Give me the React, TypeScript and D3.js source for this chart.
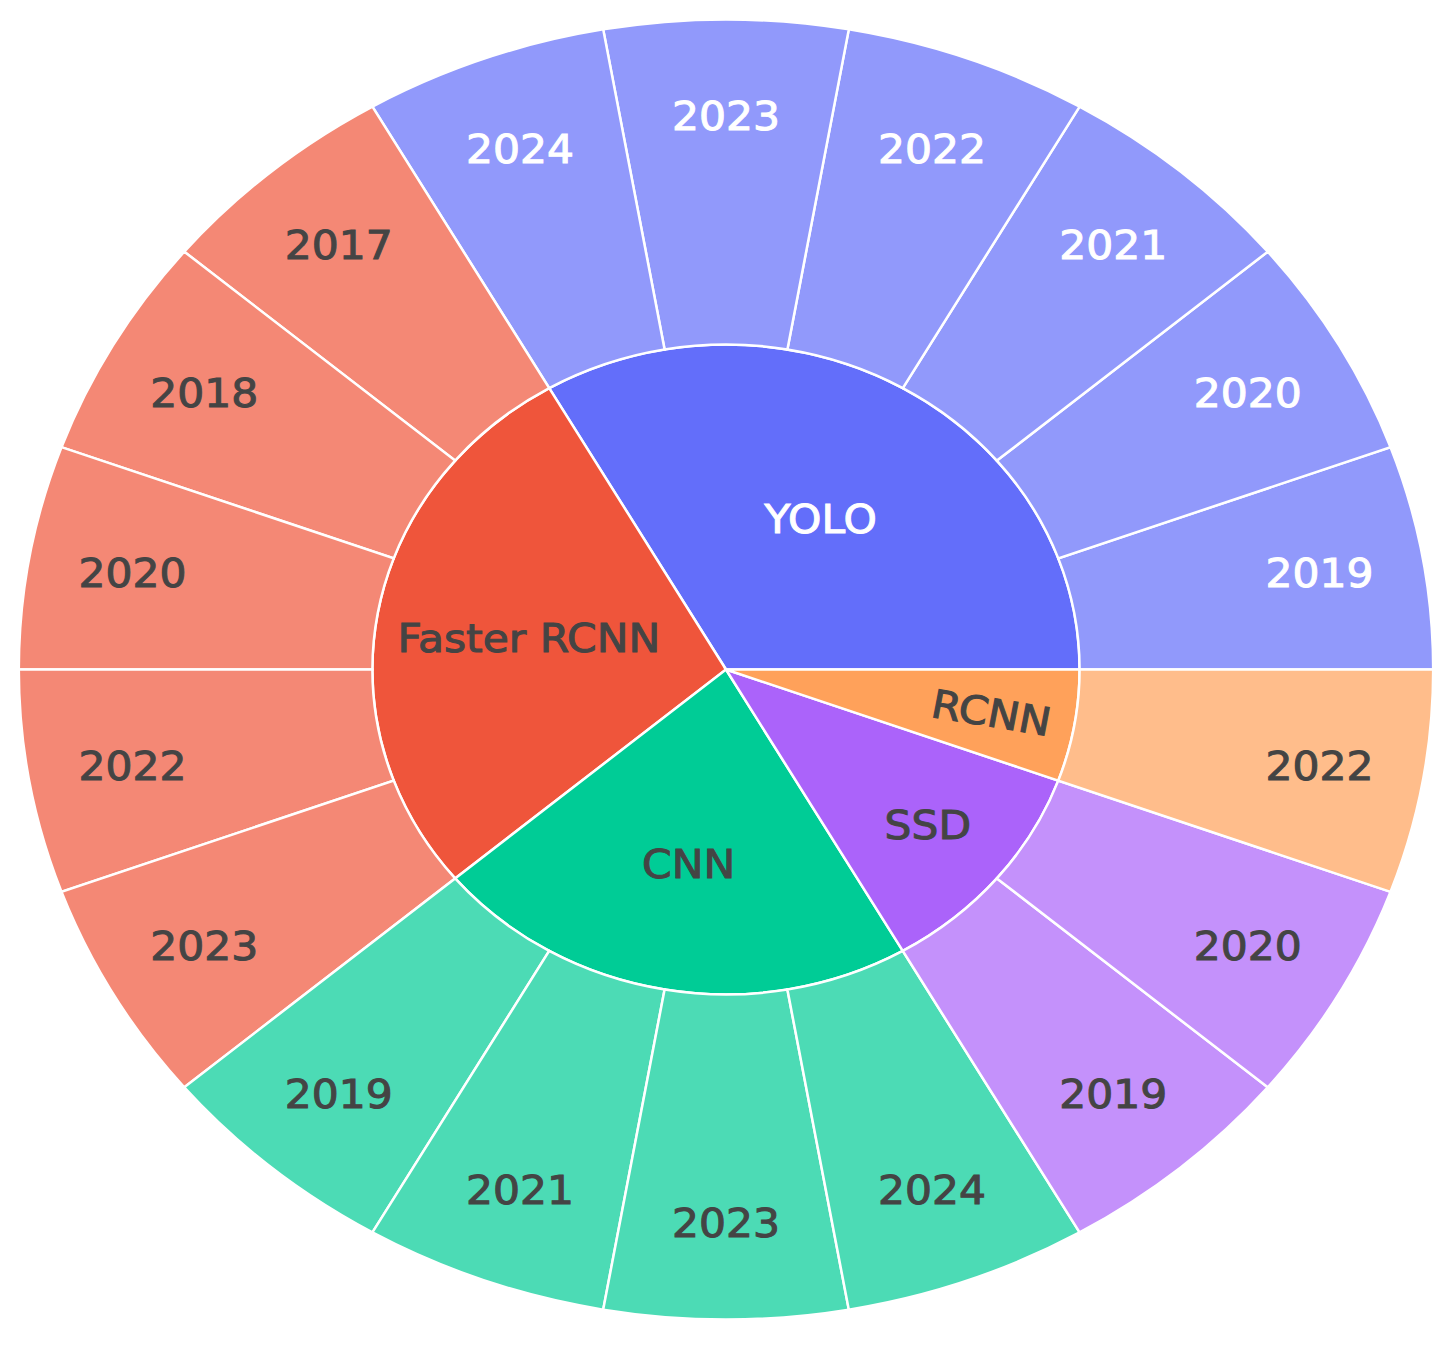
import React from "react";
import * as d3 from "d3";

const families = ["YOLO", "Faster RCNN", "CNN", "SSD", "RCNN"];
const familyColors = ["#636efa", "#EF553B", "#00cc96", "#ab63fa", "#FFA15A"];
const yoloYears = ["2019", "2020", "2021", "2022", "2023", "2024"];
const fasterRcnnYears = ["2017", "2018", "2020", "2022", "2023"];
const cnnYears = ["2019", "2021", "2023", "2024"];
const ssdYears = ["2019", "2020"];
const rcnnYears = ["2022"];
const yearsByFamily = [yoloYears, fasterRcnnYears, cnnYears, ssdYears, rcnnYears];
const leafValue = 1;

const W = 1449;
const H = 1350;
const CX = 726;
const CY = 669.5;
const R = 650;
const SX = 1.088;
const FS = 39;
const LEAF_OPACITY = 0.7;
const TEXTPAD = 3;

const charW: Record<string, number> = {
  "0": 0.636, "1": 0.636, "2": 0.636, "3": 0.636, "4": 0.636, "5": 0.636, "6": 0.636, "7": 0.636, "8": 0.636, "9": 0.636,
  F: 0.575, a: 0.613, s: 0.521, t: 0.392, e: 0.615, r: 0.411, " ": 0.318, R: 0.695, C: 0.698, N: 0.748,
  Y: 0.611, O: 0.787, L: 0.557, S: 0.635, D: 0.77,
};
const textWidth = (t: string) => t.split("").reduce((s, c) => s + (charW[c] ?? 0.62), 0) * FS;

// plotly-style contrast: based on the trace colour (ignoring leaf opacity)
function isLight(hex: string) {
  const c = d3.rgb(hex);
  return (c.r * 299 + c.g * 587 + c.b * 114) / 1000 >= 128;
}

export default function App() {
  const rootData = {
    name: "root",
    children: families.map((f, i) => ({
      name: f,
      fi: i,
      children: yearsByFamily[i].map((y) => ({ name: y, fi: i, value: leafValue })),
    })),
  };
  const root = d3.hierarchy<any>(rootData).sum((d: any) => d.value || 0);
  d3.partition<any>().size([2 * Math.PI, 3])(root);
  const rScale = d3.scaleLinear().domain([1, 3]).range([0, R]);

  const nodes = root.descendants().filter((d: any) => d.depth > 0);
  const arc = d3.arc<any>();

  const items = nodes.map((d: any, idx: number) => {
    const a0 = d.x0; // math angle, counterclockwise from 3 o'clock
    const a1 = d.x1;
    const r0 = rScale(d.y0);
    const r1 = rScale(d.y1);
    const path = arc({
      innerRadius: r0,
      outerRadius: r1,
      startAngle: Math.PI / 2 - a1,
      endAngle: Math.PI / 2 - a0,
    }) as string;
    const isLeaf = d.depth === 2;
    const base = familyColors[d.data.fi];
    const op = isLeaf ? LEAF_OPACITY : 1;
    const textColor = isLight(base) ? "#444" : "#fff";

    const half = (a1 - a0) / 2;
    const mid = (a0 + a1) / 2;
    const ring = 1 - r0 / r1;
    const rIns = Math.max(0, Math.min(1 / (1 + 1 / Math.sin(half)), ring / 2));
    const w = textWidth(d.data.name);
    const h = FS * 1.3;
    const diag = Math.sqrt(w * w + h * h);
    let tx: number, ty: number, rot = 0;
    if (2 * rIns * r1 >= diag) {
      const rc = r1 * (1 - rIns);
      tx = rc * Math.cos(mid);
      ty = -rc * Math.sin(mid);
    } else {
      const rr = r1 - 2 * TEXTPAD;
      const a = w / h;
      const s = rr / Math.sqrt(Math.pow(2 * a + 1 / Math.tan(half), 2) + 1);
      const rc = s / Math.tan(half) + a * s;
      tx = rc * Math.cos(mid);
      ty = -rc * Math.sin(mid);
      let deg = (-mid * 180) / Math.PI;
      while (deg > 90) deg -= 180;
      while (deg <= -90) deg += 180;
      rot = deg;
    }
    return { key: idx, path, base, op, textColor, tx, ty, rot, label: d.data.name };
  });

  return (
    <svg
      width={W}
      height={H}
      style={{ position: "absolute", left: 0, top: 0, background: "#fff" }}
      fontFamily="'DejaVu Sans', Verdana, sans-serif"
    >
      <g transform={`translate(${CX},${CY}) scale(${SX},1)`}>
        {items.map((it) => (
          <path
            key={"p" + it.key}
            d={it.path}
            fill={it.base}
            fillOpacity={it.op}
            stroke="#fff"
            strokeWidth={2.5}
            vectorEffect="non-scaling-stroke"
          />
        ))}
        {items.map((it) => (
          <text
            key={"t" + it.key}
            transform={`translate(${it.tx},${it.ty}) rotate(${it.rot})`}
            textAnchor="middle"
            dy="0.36em"
            fontSize={FS}
            fill={it.textColor}
            stroke={it.textColor}
            strokeWidth={1}
          >
            {it.label}
          </text>
        ))}
      </g>
    </svg>
  );
}
